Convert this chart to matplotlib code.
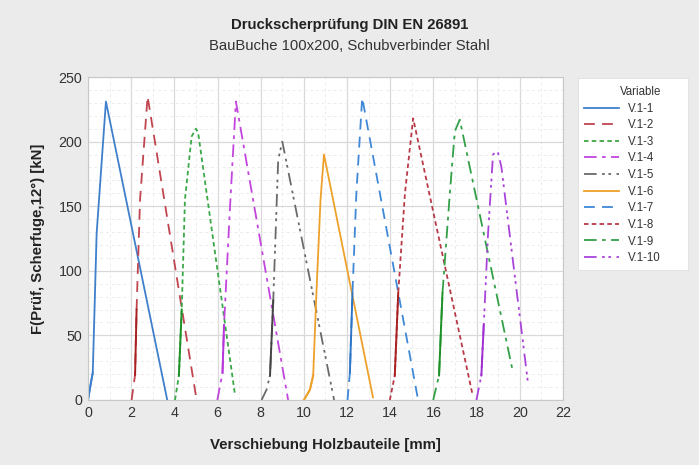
import matplotlib
matplotlib.use("Agg")
from matplotlib import pyplot as plt
from matplotlib.patches import Rectangle
from matplotlib.ticker import MultipleLocator

plt.rcParams["font.family"] = ["Liberation Sans", "DejaVu Sans"]

# Verschiebung [mm] / Kraft [kN]
v1_x = [0.0, 0.10, 0.22, 0.40, 0.83, 3.67]
v1_y = [0, 10, 21, 129, 231, 0]
v2_x = [2.02, 2.18, 2.25, 2.41, 2.76, 5.03]
v2_y = [0, 19.5, 70, 155, 235, 0]
v3_x = [4.03, 4.21, 4.34, 4.49, 4.80, 5.00, 5.10, 6.80]
v3_y = [0, 19, 70, 155, 204, 210, 207, 5]
v4_x = [5.99, 6.23, 6.30, 6.57, 6.85, 9.27]
v4_y = [0, 21, 58, 147, 231, 0]
v5_x = [8.04, 8.27, 8.43, 8.58, 8.81, 9.00, 11.40]
v5_y = [0, 8, 19, 77, 186, 200, 0]
v6_x = [10.0, 10.28, 10.43, 10.58, 10.77, 10.93, 13.20]
v6_y = [0, 8, 19, 83, 155, 190, 2]
v7_x = [12.02, 12.13, 12.25, 12.43, 12.70, 15.29]
v7_y = [0, 21, 83, 160, 234, 0]
v8_x = [13.98, 14.21, 14.37, 14.68, 15.06, 17.80]
v8_y = [0, 19, 83, 160, 218, 5]
v9_x = [15.99, 16.26, 16.42, 16.76, 16.99, 17.22, 19.69]
v9_y = [0, 19, 83, 160, 208, 217, 21]
v10_x = [17.99, 18.22, 18.33, 18.53, 18.76, 18.90, 19.00, 19.15, 20.38]
v10_y = [0, 19, 58, 129, 190, 192, 191, 180, 13]

labels = ["V.1-1", "V.1-2", "V.1-3", "V.1-4", "V.1-5",
          "V.1-6", "V.1-7", "V.1-8", "V.1-9", "V.1-10"]
xs = [v1_x, v2_x, v3_x, v4_x, v5_x, v6_x, v7_x, v8_x, v9_x, v10_x]
ys = [v1_y, v2_y, v3_y, v4_y, v5_y, v6_y, v7_y, v8_y, v9_y, v10_y]
# the densely sampled steep part looks solid in the original
steep = [(0, 2), (1, 2), (1, 2), (1, 2), (2, 3), (0, 2), (1, 2), (1, 2), (1, 2), (1, 2)]

colors = ["#3f7fcc", "#c0454f", "#3aa848", "#c245dd", "#6a6a6a",
          "#eea12a", "#3f88d6", "#b83a48", "#33a048", "#a944db"]
dark = ["#3f7fcc", "#a82020", "#1e9028", "#b436d8", "#454545",
        "#eea12a", "#3076c6", "#a82020", "#1e9028", "#a030d2"]
dashdot = (0, (7, 3, 2, 3))
dashdotdot = (0, (7, 3, 1.5, 2, 1.5, 3))
styles = ["-", (0, (6, 4)), (0, (2.5, 1.8)), dashdot, dashdotdot,
          "-", (0, (6, 4)), (0, (2.5, 1.8)), dashdot, dashdotdot]

bg = "#ebebeb"
fig = plt.figure(figsize=(6.99, 4.65), dpi=100, facecolor=bg)
ax = fig.add_axes([0.1259, 0.1398, 0.6795, 0.6946])

for x, y, lab, c, dc, ls, (a, b) in zip(xs, ys, labels, colors, dark, styles, steep):
    ax.plot(x, y, color=c, linestyle=ls, linewidth=1.3, label=lab)
    ax.plot(x[a:b + 1], y[a:b + 1], color=dc, linestyle="-", linewidth=1.4)

ax.set_xlim(0, 22)
ax.set_ylim(0, 250)
ax.xaxis.set_major_locator(MultipleLocator(2))
ax.xaxis.set_minor_locator(MultipleLocator(1))
ax.yaxis.set_major_locator(MultipleLocator(50))
ax.yaxis.set_minor_locator(MultipleLocator(10))
ax.grid(which="major", color="#d9d9d9", linewidth=0.9)
ax.grid(which="minor", color="#ececec", linewidth=0.7, linestyle=(0, (3, 3)))
ax.set_axisbelow(True)
ax.tick_params(which="both", length=0, pad=4, labelsize=10.3, labelcolor="#333333")
for sp in ax.spines.values():
    sp.set_color("#c8c8c8")

ax.set_xlabel("Verschiebung Holzbauteile [mm]", fontsize=10.8, fontweight="bold",
              color="#222222", labelpad=13)
ax.set_ylabel("F(Prüf, Scherfuge,12°) [kN]", fontsize=10.8, fontweight="bold",
              color="#222222", labelpad=10)

fig.text(0.5, 1 - 25 / 465, "Druckscherprüfung DIN EN 26891", ha="center", va="center",
         fontsize=10.7, fontweight="bold", color="#222222")
fig.text(0.5, 1 - 46 / 465, "BauBuche 100x200, Schubverbinder Stahl", ha="center",
         va="center", fontsize=10.7, color="#333333")

# white legend panel, wider on the right like the original
panel = Rectangle((578 / 699, 1 - 270 / 465), 110 / 699, 192 / 465,
                  transform=fig.transFigure, facecolor="white",
                  edgecolor="#e0e0e0", linewidth=0.6, zorder=-1)
fig.add_artist(panel)

leg = ax.legend(loc="upper left", bbox_to_anchor=(584 / 699, 1 - 86 / 465),
                bbox_transform=fig.transFigure, borderaxespad=0, borderpad=0,
                title="Variable", fontsize=8.3, title_fontsize=8.3, frameon=False,
                handlelength=3.0, handletextpad=0.85, labelspacing=0.4,
                alignment="right")
for t in leg.get_texts():
    t.set_color("#333333")
leg.get_title().set_color("#333333")

fig.savefig("out.png", dpi=100, facecolor=bg)
